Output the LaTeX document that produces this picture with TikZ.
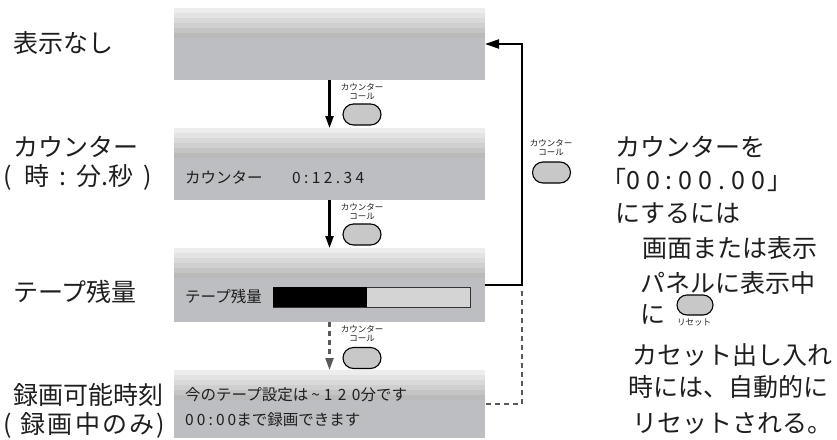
\documentclass[tikz,border=0pt]{standalone}
\usepackage{fontspec}
\setmainfont{Noto Sans CJK JP}
\usetikzlibrary{arrows.meta,shapes.misc}
\definecolor{bodygray}{HTML}{BDBEC2}
\definecolor{btngray}{HTML}{C8C8C8}
\definecolor{txt}{HTML}{1E1E1E}
\definecolor{dashgray}{HTML}{5A5A5A}
\newcommand{\spc}[2]{{\addfontfeatures{LetterSpace=#1}#2}}
\begin{document}
\begin{tikzpicture}[x=1pt,y=-1pt,
  screen/.style={minimum width=311pt, minimum height=#1, inner sep=0pt, outer sep=0pt, fill=bodygray,
    path picture={
      \foreach \k/\g in {0/7,1/11,2/15,3/19,4/23,5/27}{
        \fill[black!\g] ([yshift=-\k*5pt]path picture bounding box.north west) rectangle ([yshift=-\k*5pt-5pt]path picture bounding box.north east);
      }}},
  btn/.style={rounded rectangle, draw=black, line width=1.1pt, fill=btngray, minimum width=38pt, minimum height=21pt, inner sep=0pt},
  tinylbl/.style={font=\fontsize{8.5}{9}\selectfont, align=center, inner sep=0pt, text=txt},
  big/.style={font=\fontsize{25}{30}\selectfont, anchor=west, inner sep=0pt, text=txt},
  scr/.style={font=\fontsize{15.5}{18}\selectfont, anchor=west, inner sep=0pt, text=txt},
  arr/.style={line width=2.2pt, -{Triangle[length=12pt,width=8pt]}},
  darr/.style={line width=2.2pt, draw=dashgray, dash pattern=on 5pt off 4pt, -{Triangle[length=12pt,width=8pt,fill=dashgray]}},
  looparr/.style={line width=2.2pt, -{Triangle[length=14pt,width=9pt]}},
  dline/.style={line width=2.2pt, draw=dashgray, dash pattern=on 5pt off 4pt},
]
\useasboundingbox (0,0) rectangle (837,439);
% screens
\node[screen=72pt] (s1) at (329.5,44) {};
\node[screen=72pt] (s2) at (329.5,164) {};
\node[screen=74pt] (s3) at (329.5,285) {};
\node[screen=68pt] (s4) at (329.5,404) {};
% screen texts
\node[scr] (t2a) at (185,178) {カウンター};
\node[scr] (t2b) at (292,178) {\spc{22}{0:12.34}};
\node[scr] (t3) at (185,297) {テープ残量};
\node[draw=black!80, line width=0.8pt, fill=black!17, minimum width=197pt, minimum height=20pt, inner sep=0pt, anchor=west] (bar) at (273,297) {};
\node[fill=black, minimum width=94pt, minimum height=20pt, inner sep=0pt, anchor=west] (barfill) at (bar.west) {};
\node[scr] (t4a) at (185,395) {今のテープ設定は\hspace{3pt}\textasciitilde\hspace{4pt}\spc{35}{120}分です};
\node[scr] (t4b) at (185,420) {\spc{20}{00:00}まで録画できます};
% left labels
\node[big] (l1) at (13,43) {表示なし};
\node[big] (l2a) at (13,147) {カウンター};
\node[big] (l2b) at (3,177) {(\hspace{13pt}時\hspace{10pt}:\hspace{10pt}分.秒\hspace{10pt})};
\node[big] (l3) at (13,292) {テープ残量};
\node[big] (l4a) at (13,395) {録画可能時刻};
\node[big] (l4b) at (3,425) {(\hspace{9pt}\spc{9}{録画中のみ}\hspace{2pt})};
% buttons
\node[btn] (b1) at (362,114.5) {};
\node[tinylbl] (lb1) at (362,92) {カウンター\\コール};
\node[btn] (b2) at (362,234.5) {};
\node[tinylbl] (lb2) at (362,212) {カウンター\\コール};
\node[btn] (b3) at (362,358) {};
\node[tinylbl] (lb3) at (362,333.5) {カウンター\\コール};
\node[btn] (b4) at (551.5,172.5) {};
\node[tinylbl] (lb4) at (551,148) {カウンター\\コール};
% right text
\node[big] (r1) at (615,147) {カウンターを};
\node[big] (r2) at (601,180) {「\spc{24}{00:00.00}\hspace{2pt}」};
\node[big] (r3) at (615,213) {にするには};
\node[big] (r4) at (642,248) {画面または表示};
\node[big] (r5) at (640,283) {パネルに表示中};
\node[big] (r6) at (640,314) {に};
\node[btn, minimum width=36pt, minimum height=20pt] (b5) at (695,305) {};
\node[tinylbl] (lb5) at (694,323) {リセット};
\node[big] (r7) at (632,355) {カセット出し入れ};
\node[big] (r8) at (628,387) {時には、自動的に};
\node[big] (r9) at (632,423) {リセットされる。};
% connectors
\draw[arr] (s1.south) -- (s2.north);
\draw[arr] (s2.south) -- (s3.north);
\draw[darr] (s3.south) -- (s4.north);
\coordinate (rx) at (522,200);
\draw[looparr] (s3.east) -| (rx) |- (s1.east);
\coordinate (dtop) at (522,291);
\draw[dline] (dtop) |- (s4.east);
\end{tikzpicture}
\end{document}
